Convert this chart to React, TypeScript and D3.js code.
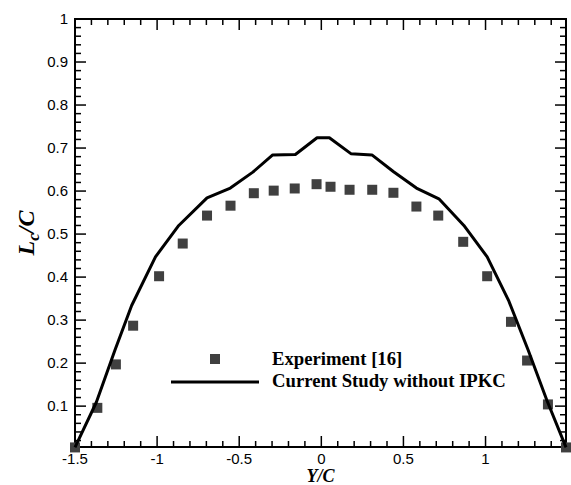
import React from "react";
import * as d3 from "d3";

const expX = [-1.5, -1.364, -1.251, -1.146, -0.988, -0.844, -0.696, -0.553, -0.411, -0.29, -0.162, -0.029, 0.056, 0.172, 0.31, 0.439, 0.579, 0.712, 0.864, 1.01, 1.155, 1.253, 1.38, 1.49];
const expY = [0.004, 0.096, 0.197, 0.287, 0.402, 0.478, 0.543, 0.566, 0.595, 0.601, 0.606, 0.616, 0.61, 0.603, 0.603, 0.596, 0.564, 0.543, 0.482, 0.402, 0.296, 0.206, 0.104, 0.004];

const simX = [-1.5, -1.37, -1.257, -1.155, -1.01, -0.868, -0.696, -0.554, -0.417, -0.296, -0.158, -0.026, 0.049, 0.18, 0.308, 0.44, 0.579, 0.716, 0.868, 1.01, 1.14, 1.26, 1.374, 1.49];
const simY = [0.004, 0.109, 0.23, 0.334, 0.447, 0.52, 0.584, 0.607, 0.644, 0.684, 0.685, 0.724, 0.724, 0.687, 0.684, 0.645, 0.607, 0.582, 0.52, 0.447, 0.346, 0.23, 0.113, 0.004];

const xMajor = [-1.5, -1, -0.5, 0, 0.5, 1];
const xLabels = ["-1.5", "-1", "-0.5", "0", "0.5", "1"];
const yMajor = [0.1, 0.2, 0.3, 0.4, 0.5, 0.6, 0.7, 0.8, 0.9, 1];
const yLabels = ["0.1", "0.2", "0.3", "0.4", "0.5", "0.6", "0.7", "0.8", "0.9", "1"];

const legendLabels = ["Experiment [16]", "Current Study without IPKC"];

export default function App() {
  const W = 571, H = 485;
  const L = 75, R = 566, T = 19, B = 447;
  const x = d3.scaleLinear().domain([-1.5, 1.49]).range([L, R]);
  const y = d3.scaleLinear().domain([0.005, 1]).range([B, T]);

  const xMinor = d3.range(-15, 15).map((i) => i / 10).filter((v) => !xMajor.some((m) => Math.abs(m - v) < 1e-6) && v <= 1.49);
  const yMinor = d3.range(1, 50).map((i) => i / 50).filter((v) => !yMajor.some((m) => Math.abs(m - v) < 1e-6));

  const line = d3.line<number>().x((_, i) => x(simX[i])).y((_, i) => y(simY[i]))(simX) || "";
  const sq = 10;
  const majLen = 11, minLen = 6;
  const sans = "'Liberation Sans', Arial, sans-serif";
  const serif = "'Liberation Serif', 'Times New Roman', serif";

  return (
    <svg width={W} height={H} style={{ position: "absolute", left: 0, top: 0, background: "#fff" }}>
      <rect x={0} y={0} width={W} height={H} fill="#fff" />
      <g stroke="#000" strokeWidth={1.5}>
        {xMajor.map((v) => (
          <g key={"xm" + v}>
            <line x1={x(v)} x2={x(v)} y1={B} y2={B - majLen} />
            <line x1={x(v)} x2={x(v)} y1={T} y2={T + majLen} />
          </g>
        ))}
        {xMinor.map((v) => (
          <g key={"xn" + v}>
            <line x1={x(v)} x2={x(v)} y1={B} y2={B - minLen} />
            <line x1={x(v)} x2={x(v)} y1={T} y2={T + minLen} />
          </g>
        ))}
        {yMajor.map((v) => (
          <g key={"ym" + v}>
            <line x1={L} x2={L + majLen} y1={y(v)} y2={y(v)} />
            <line x1={R} x2={R - majLen} y1={y(v)} y2={y(v)} />
          </g>
        ))}
        {yMinor.map((v) => (
          <g key={"yn" + v}>
            <line x1={L} x2={L + minLen} y1={y(v)} y2={y(v)} />
            <line x1={R} x2={R - minLen} y1={y(v)} y2={y(v)} />
          </g>
        ))}
      </g>
      <rect x={L} y={T} width={R - L} height={B - T} fill="none" stroke="#000" strokeWidth={2} />
      <g fontFamily={sans} fontSize={15} fill="#000">
        {xMajor.map((v, i) => (
          <text key={"xl" + v} x={x(v)} y={464} textAnchor="middle">{xLabels[i]}</text>
        ))}
        {yMajor.map((v, i) => (
          <text key={"yl" + v} x={68} y={y(v) + 5} textAnchor="end">{yLabels[i]}</text>
        ))}
      </g>
      <text x={(L + R) / 2} y={482} textAnchor="middle" fontFamily={serif} fontWeight="bold" fontStyle="italic" fontSize={18}>Y/C</text>
      <text transform={`translate(34,${(T + B) / 2}) rotate(-90)`} textAnchor="middle" fontFamily={serif} fontWeight="bold" fontStyle="italic" fontSize={24}>
        L<tspan fontSize={17} dy={5}>c</tspan><tspan dy={-5}>/C</tspan>
      </text>
      {expX.map((v, i) => (
        <rect key={"e" + i} x={x(v) - sq / 2} y={y(expY[i]) - sq / 2} width={sq} height={sq} fill="#404040" />
      ))}
      <path d={line} fill="none" stroke="#000" strokeWidth={3} strokeLinejoin="round" />
      <rect x={215 - sq / 2} y={359 - sq / 2} width={sq} height={sq} fill="#404040" />
      <line x1={171} x2={259} y1={382} y2={382} stroke="#000" strokeWidth={3} />
      <g fontFamily={serif} fontWeight="bold" fontSize={18.7} fill="#000">
        <text x={272} y={365}>{legendLabels[0]}</text>
        <text x={272} y={387}>{legendLabels[1]}</text>
      </g>
    </svg>
  );
}
